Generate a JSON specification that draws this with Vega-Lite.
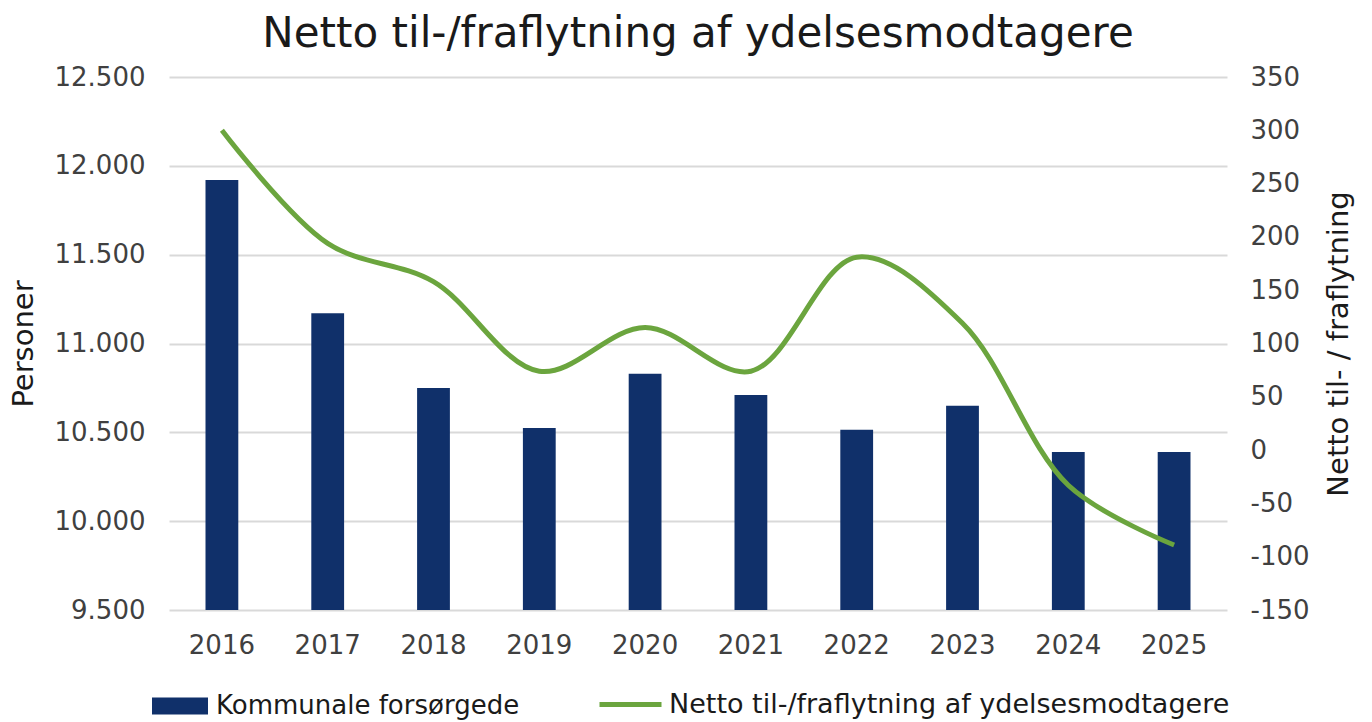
{
  "$schema": "https://vega.github.io/schema/vega-lite/v6.json",
  "autosize": {"type": "none"},
  "width": 1058,
  "height": 533,
  "padding": {"left": 169, "top": 77, "right": 145, "bottom": 112},
  "background": "white",
  "title": {
    "text": "Netto til-/fraflytning af ydelsesmodtagere",
    "font": "DejaVu Sans",
    "fontSize": 42,
    "fontWeight": "normal",
    "color": "#1a1a1a",
    "anchor": "middle",
    "offset": 8
  },
  "config": {
    "view": {"stroke": null},
    "axis": {
      "labelFont": "DejaVu Sans",
      "labelFontSize": 26,
      "labelColor": "#404040",
      "titleFont": "DejaVu Sans",
      "titleFontSize": 29,
      "titleFontWeight": "normal",
      "titleColor": "#1a1a1a",
      "domain": false,
      "ticks": false
    },
    "legend": {
      "labelFont": "DejaVu Sans",
      "labelFontSize": 27,
      "labelColor": "#1a1a1a",
      "labelLimit": 0
    }
  },
  "data": {
    "values": [
      {"year": "2016", "personer": 11920, "netto": 300},
      {"year": "2017", "personer": 11170, "netto": 194},
      {"year": "2018", "personer": 10750, "netto": 158},
      {"year": "2019", "personer": 10525, "netto": 74},
      {"year": "2020", "personer": 10830, "netto": 115},
      {"year": "2021", "personer": 10710, "netto": 74},
      {"year": "2022", "personer": 10515, "netto": 181},
      {"year": "2023", "personer": 10650, "netto": 119},
      {"year": "2024", "personer": 10390, "netto": -33},
      {"year": "2025", "personer": 10390, "netto": -89}
    ]
  },
  "encoding": {
    "x": {
      "field": "year",
      "type": "ordinal",
      "scale": {"paddingInner": 0.69, "paddingOuter": 0.345},
      "axis": {"title": null, "labelAngle": 0, "labelPadding": 22}
    }
  },
  "layer": [
    {
      "mark": {"type": "bar", "color": "#10306A"},
      "encoding": {
        "y": {
          "field": "personer",
          "type": "quantitative",
          "scale": {"domain": [9500, 12500], "nice": false, "zero": false},
          "axis": {
            "title": "Personer",
            "values": [9500, 10000, 10500, 11000, 11500, 12000, 12500],
            "labelExpr": "replace(format(datum.value, ','), ',', '.')",
            "labelPadding": 24,
            "titlePadding": 16,
            "grid": true,
            "gridColor": "#d9d9d9",
            "gridWidth": 2
          }
        },
        "y2": {"datum": 9500},
        "fill": {
          "datum": "Kommunale forsørgede",
          "type": "nominal",
          "scale": {"range": ["#10306A"]},
          "legend": {
            "title": null,
            "orient": "none",
            "legendX": -17,
            "legendY": 601,
            "symbolType": "M-1,-0.3L1,-0.3L1,0.3L-1,0.3Z",
            "symbolSize": 3136,
            "symbolStrokeWidth": 0,
            "labelOffset": 8,
            "labelFontSize": 26
          }
        }
      }
    },
    {
      "mark": {"type": "line", "interpolate": "catmull-rom", "strokeWidth": 5},
      "encoding": {
        "y": {
          "field": "netto",
          "type": "quantitative",
          "scale": {"domain": [-150, 350], "nice": false, "zero": false},
          "axis": {
            "orient": "right",
            "title": "Netto til- / fraflytning",
            "titleAngle": 270,
            "values": [-150, -100, -50, 0, 50, 100, 150, 200, 250, 300, 350],
            "labelExpr": "datum.value < 0 ? '-' + abs(datum.value) : '' + datum.value",
            "labelPadding": 23,
            "titlePadding": 44,
            "grid": false
          }
        },
        "stroke": {
          "datum": "Netto til-/fraflytning af ydelsesmodtagere",
          "type": "nominal",
          "scale": {"range": ["#6BA53E"]},
          "legend": {
            "title": null,
            "orient": "none",
            "legendX": 428,
            "legendY": 594,
            "symbolType": "stroke",
            "symbolSize": 3844,
            "symbolStrokeWidth": 5,
            "labelOffset": 5
          }
        }
      }
    }
  ],
  "resolve": {"scale": {"y": "independent", "fill": "independent", "stroke": "independent"}}
}
